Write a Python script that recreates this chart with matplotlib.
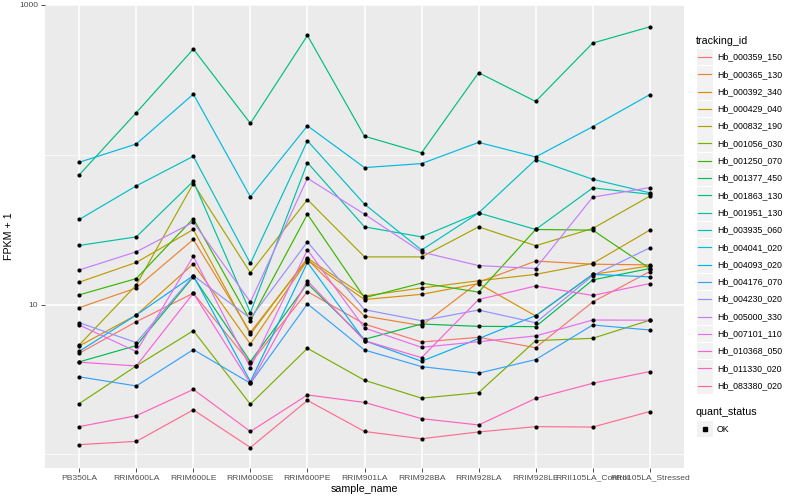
import matplotlib
matplotlib.use("Agg")
import matplotlib.pyplot as plt
from matplotlib.lines import Line2D
from matplotlib.patches import Rectangle
from matplotlib.ticker import FixedLocator, NullFormatter

plt.rcParams['font.family'] = ['Liberation Sans', 'DejaVu Sans']

samples = ["PB350LA", "RRIM600LA", "RRIM600LE", "RRIM600SE", "RRIM600PE",
           "RRIM901LA", "RRIM928BA", "RRIM928LA", "RRIM928LE",
           "RRII105LA_Control", "RRII105LA_Stressed"]

# FPKM + 1
hb_000359_150 = [4.73, 7.68, 11.9, 4.05, 12.2, 7.41, 5.62, 6.04, 5.15, 10.4, 16.6]
hb_000365_130 = [9.53, 12.9, 27.2, 6.52, 20.0, 8.38, 7.23, 14.1, 19.5, 18.6, 18.4]
hb_000392_340 = [5.29, 8.51, 18.7, 5.45, 19.8, 10.8, 11.7, 13.8, 8.38, 15.9, 18.1]
hb_000429_040 = [14.1, 19.1, 31.7, 6.33, 20.4, 11.4, 12.9, 14.4, 15.9, 18.8, 31.4]
hb_000832_190 = [5.37, 13.5, 64.2, 16.3, 50.2, 20.8, 20.8, 33.0, 24.7, 32.2, 52.9]
hb_001056_030 = [2.18, 3.89, 6.69, 2.16, 5.10, 3.12, 2.37, 2.58, 5.74, 5.95, 7.86]
hb_001250_070 = [11.6, 14.9, 37.5, 7.80, 40.1, 11.1, 13.9, 12.1, 31.7, 31.4, 17.4]
hb_001377_450 = [4.14, 5.32, 15.3, 4.16, 13.8, 5.86, 7.41, 7.15, 7.12, 14.6, 17.4]
hb_001863_130 = [73.4, 191, 508, 162, 626, 133, 103, 353, 227, 557, 715]
hb_001951_130 = [24.8, 28.3, 66.6, 8.82, 88.6, 33.0, 28.3, 40.9, 31.7, 60.1, 54.5]
hb_003935_060 = [37.0, 62.0, 97.7, 18.8, 124, 46.8, 23.1, 40.9, 92.9, 68.6, 55.7]
hb_004041_020 = [89.1, 118, 254, 52.4, 156, 82.1, 87.3, 121, 96.7, 154, 252]
hb_004093_020 = [4.87, 8.51, 15.6, 3.06, 19.1, 5.74, 4.18, 5.92, 8.43, 15.9, 15.3]
hb_004176_070 = [3.29, 2.86, 5.00, 2.98, 10.1, 4.97, 3.85, 3.48, 4.29, 7.30, 6.76]
hb_004230_020 = [7.56, 5.57, 15.6, 8.09, 26.2, 9.24, 7.80, 9.19, 7.56, 15.6, 23.9]
hb_005000_330 = [17.0, 22.5, 35.5, 10.4, 69.7, 40.1, 22.4, 18.2, 17.4, 52.1, 60.4]
hb_007101_110 = [7.30, 4.85, 21.0, 3.79, 23.2, 6.97, 5.18, 5.65, 6.17, 7.88, 7.86]
hb_010368_050 = [4.12, 3.89, 11.9, 2.98, 14.4, 5.74, 4.42, 10.8, 13.3, 11.5, 13.8]
hb_011330_020 = [1.53, 1.81, 2.71, 1.42, 2.49, 2.22, 1.73, 1.57, 2.36, 2.98, 3.57]
hb_083380_020 = [1.16, 1.22, 1.98, 1.11, 2.29, 1.42, 1.27, 1.41, 1.53, 1.52, 1.93]

tracking_ids = ["Hb_000359_150", "Hb_000365_130", "Hb_000392_340", "Hb_000429_040",
                "Hb_000832_190", "Hb_001056_030", "Hb_001250_070", "Hb_001377_450",
                "Hb_001863_130", "Hb_001951_130", "Hb_003935_060", "Hb_004041_020",
                "Hb_004093_020", "Hb_004176_070", "Hb_004230_020", "Hb_005000_330",
                "Hb_007101_110", "Hb_010368_050", "Hb_011330_020", "Hb_083380_020"]
series = [hb_000359_150, hb_000365_130, hb_000392_340, hb_000429_040, hb_000832_190,
          hb_001056_030, hb_001250_070, hb_001377_450, hb_001863_130, hb_001951_130,
          hb_003935_060, hb_004041_020, hb_004093_020, hb_004176_070, hb_004230_020,
          hb_005000_330, hb_007101_110, hb_010368_050, hb_011330_020, hb_083380_020]

# ggplot hue palette, 20 levels
colors = ["#F8766D", "#EA8331", "#D89000", "#C09B00", "#A3A500", "#7CAE00", "#39B600",
          "#00BB4E", "#00BF7D", "#00C1A3", "#00BFC4", "#00BAE0", "#00B0F6", "#35A2FF",
          "#9590FF", "#C77CFF", "#E76BF3", "#FA62DB", "#FF62BC", "#FF6C91"]

fig = plt.figure(figsize=(8, 5), dpi=100)
ax = fig.add_axes([45 / 800, 32 / 500, 639 / 800, 463 / 500])
ax.set_facecolor("#EBEBEB")
for s in ax.spines.values():
    s.set_visible(False)

x = list(range(len(samples)))
for vals, c in zip(series, colors):
    ax.plot(x, vals, color=c, lw=0.85, zorder=2)
for vals in series:
    ax.plot(x, vals, 'o', color='black', ms=3.0, mec='none', zorder=3)

ax.set_yscale('log')
ax.set_ylim(0.81, 1000)
ax.set_xlim(-0.6, len(samples) - 0.4)
ax.yaxis.set_major_locator(FixedLocator([10, 1000]))
ax.set_yticklabels(["10", "1000"])
ax.yaxis.set_minor_locator(FixedLocator([1, 100]))
ax.yaxis.set_minor_formatter(NullFormatter())
ax.set_xticks(x)
ax.set_xticklabels(samples)

ax.grid(True, which='major', color='white', lw=1.1, zorder=0)
ax.grid(True, which='minor', axis='y', color='white', lw=0.5, zorder=0)
ax.set_axisbelow(True)
ax.tick_params(which='major', length=2.8, width=0.6, color='#333333',
               labelsize=6.1, labelcolor='#4D4D4D', pad=2)
ax.tick_params(which='minor', length=0)

ax.set_xlabel("sample_name", fontsize=7.7, labelpad=2)
ax.set_ylabel("FPKM + 1", fontsize=7.7, labelpad=4)

# legends drawn by hand in pixel units
def px(xp, yp):
    return xp / 800, 1 - yp / 500

fig.text(*px(696, 41), "tracking_id", fontsize=7.7, va='center', ha='left')
for i, (name, c) in enumerate(zip(tracking_ids, colors)):
    yc = 57 + i * 17.3
    x0, y0 = px(697, yc + 8.3)
    fig.patches.append(Rectangle((x0, y0), 16 / 800, 16.6 / 500, transform=fig.transFigure,
                                 facecolor='#F2F2F2', edgecolor='none'))
    fig.lines.append(Line2D([698 / 800, 711 / 800], [1 - yc / 500] * 2, color=c, lw=0.85,
                            transform=fig.transFigure))
    fig.text(*px(717, yc), name, fontsize=6.3, va='center', ha='left')

fig.text(*px(696, 412), "quant_status", fontsize=7.7, va='center', ha='left')
x0, y0 = px(697, 429 + 8.3)
fig.patches.append(Rectangle((x0, y0), 16 / 800, 16.6 / 500, transform=fig.transFigure,
                             facecolor='#F2F2F2', edgecolor='none'))
fig.lines.append(Line2D([705 / 800], [1 - 429 / 500], marker='s', ms=2.6, color='black',
                        lw=0, transform=fig.transFigure))
fig.text(*px(717, 429), "OK", fontsize=6.3, va='center', ha='left')

fig.savefig("out.png", dpi=100)
